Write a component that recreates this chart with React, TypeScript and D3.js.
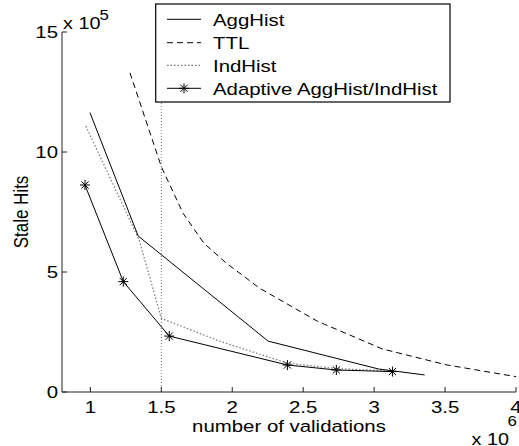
import React from "react";
import * as d3 from "d3";

// ---- data (x in 10^6 validations, y in 10^5 stale hits) ----
const aggX = [0.997, 1.337, 2.253, 3.03, 3.356];
const aggY = [11.64, 6.5, 2.12, 0.96, 0.71];

const ttlX = [1.279, 1.5, 1.654, 1.8, 1.96, 2.194, 2.6, 3.06, 3.51, 4.0];
const ttlY = [13.3, 9.39, 7.44, 6.2, 5.36, 4.32, 2.95, 1.79, 1.13, 0.64];

const indX = [0.968, 1.344, 1.5, 1.91, 2.39, 2.73, 3.13];
const indY = [11.08, 6.33, 3.07, 2.12, 1.2, 0.98, 0.87];

const adX = [0.962, 1.232, 1.556, 2.389, 2.734, 3.129];
const adY = [8.625, 4.6, 2.33, 1.125, 0.917, 0.85];

const refLineX = 1.5;

const xTicks = [1, 1.5, 2, 2.5, 3, 3.5, 4];
const xTickLabels = ["1", "1.5", "2", "2.5", "3", "3.5", "4"];
const yTicks = [0, 5, 10, 15];
const yTickLabels = ["0", "5", "10", "15"];

const legendLabels = ["AggHist", "TTL", "IndHist", "Adaptive AggHist/IndHist"];

const W = 519;
const H = 446;
const FONT = "'Liberation Sans', Arial, Helvetica, sans-serif";
const SX = 1.2;

const x = d3.scaleLinear().domain([0.8, 4]).range([62, 516]);
const y = d3.scaleLinear().domain([0, 15]).range([392, 32]);

function toPts(xs: number[], ys: number[]): [number, number][] {
  return xs.map((v, i) => [v, ys[i]]);
}

const line = d3
  .line<[number, number]>()
  .x((d) => x(d[0]))
  .y((d) => y(d[1]));

function SText(props: {
  x: number;
  y: number;
  anchor?: string;
  size?: number;
  children: React.ReactNode;
}) {
  return (
    <g transform={`translate(${props.x},${props.y}) scale(${SX},1)`}>
      <text
        textAnchor={props.anchor || "start"}
        fontFamily={FONT}
        fontSize={props.size || 17}
        fill="#000"
      >
        {props.children}
      </text>
    </g>
  );
}

function Star(props: { cx: number; cy: number }) {
  const r = 5;
  const d = 3.6;
  const { cx, cy } = props;
  return (
    <g stroke="#000" strokeWidth={1}>
      <line x1={cx - r} y1={cy} x2={cx + r} y2={cy} />
      <line x1={cx} y1={cy - r} x2={cx} y2={cy + r} />
      <line x1={cx - d} y1={cy - d} x2={cx + d} y2={cy + d} />
      <line x1={cx - d} y1={cy + d} x2={cx + d} y2={cy - d} />
    </g>
  );
}

export default function App() {
  const legendRows = [19.3, 42.7, 65.3, 88.3];
  return (
    <svg
      width={W}
      height={H}
      style={{ position: "absolute", left: 0, top: 0, background: "#fff" }}
    >
      <rect x={0} y={0} width={W} height={H} fill="#fff" />
      {/* vertical reference line */}
      <line
        x1={x(refLineX)}
        x2={x(refLineX)}
        y1={y(0)}
        y2={y(15)}
        stroke="#777"
        strokeWidth={1}
        strokeDasharray="1,2"
      />
      {/* series */}
      <path d={line(toPts(ttlX, ttlY)) || ""} fill="none" stroke="#000" strokeWidth={1} strokeDasharray="6,4" />
      <path d={line(toPts(indX, indY)) || ""} fill="none" stroke="#777" strokeWidth={1.2} strokeDasharray="1.5,2" />
      <path d={line(toPts(aggX, aggY)) || ""} fill="none" stroke="#000" strokeWidth={1} />
      <path d={line(toPts(adX, adY)) || ""} fill="none" stroke="#000" strokeWidth={1} />
      {adX.map((v, i) => (
        <Star key={i} cx={x(v)} cy={y(adY[i])} />
      ))}

      {/* axes */}
      <g stroke="#222" strokeWidth={1}>
        <line x1={x(0.8)} x2={x(0.8)} y1={y(0)} y2={y(15)} />
        <line x1={x(0.8)} x2={x(4)} y1={y(0)} y2={y(0)} />
        {xTicks.map((t) => (
          <line key={"xt" + t} x1={x(t)} x2={x(t)} y1={y(0)} y2={y(0) - 5} />
        ))}
        {yTicks.map((t) => (
          <line key={"yt" + t} x1={x(0.8)} x2={x(0.8) + 5} y1={y(t)} y2={y(t)} />
        ))}
      </g>
      {xTicks.map((t, i) => (
        <SText key={"xl" + t} x={x(t)} y={y(0) + 21} anchor="middle">
          {xTickLabels[i]}
        </SText>
      ))}
      {yTicks.map((t, i) => (
        <SText key={"yl" + t} x={x(0.8) - 4} y={y(t) + 6} anchor="end">
          {yTickLabels[i]}
        </SText>
      ))}

      {/* exponent labels */}
      <SText x={63} y={28.5} size={16.5}>
        x 10
      </SText>
      <SText x={99.5} y={19.5} size={14}>
        5
      </SText>
      <SText x={471.5} y={444.5} size={16.5}>
        x 10
      </SText>
      <SText x={507.5} y={425.5} size={14}>
        6
      </SText>

      {/* axis labels */}
      <SText x={(x(0.8) + x(4)) / 2} y={432} anchor="middle">
        number of validations
      </SText>
      <g transform={`translate(27.5,${(y(0) + y(15)) / 2}) scale(${SX},1) rotate(-90)`}>
        <text textAnchor="middle" fontFamily={FONT} fontSize={17} fill="#000">
          Stale Hits
        </text>
      </g>

      {/* legend */}
      <rect x={155.7} y={4} width={294.3} height={98} fill="#fff" stroke="#000" strokeWidth={1.2} />
      <line x1={167} x2={201} y1={legendRows[0]} y2={legendRows[0]} stroke="#000" strokeWidth={1} />
      <line x1={167} x2={201} y1={legendRows[1]} y2={legendRows[1]} stroke="#000" strokeWidth={1} strokeDasharray="6,4" />
      <line x1={167} x2={201} y1={legendRows[2]} y2={legendRows[2]} stroke="#777" strokeWidth={1.2} strokeDasharray="1.5,2" />
      <line x1={167} x2={201} y1={legendRows[3]} y2={legendRows[3]} stroke="#000" strokeWidth={1} />
      <Star cx={184} cy={legendRows[3]} />
      {legendLabels.map((l, i) => (
        <SText key={l} x={213} y={legendRows[i] + 6.2}>
          {l}
        </SText>
      ))}
    </svg>
  );
}
